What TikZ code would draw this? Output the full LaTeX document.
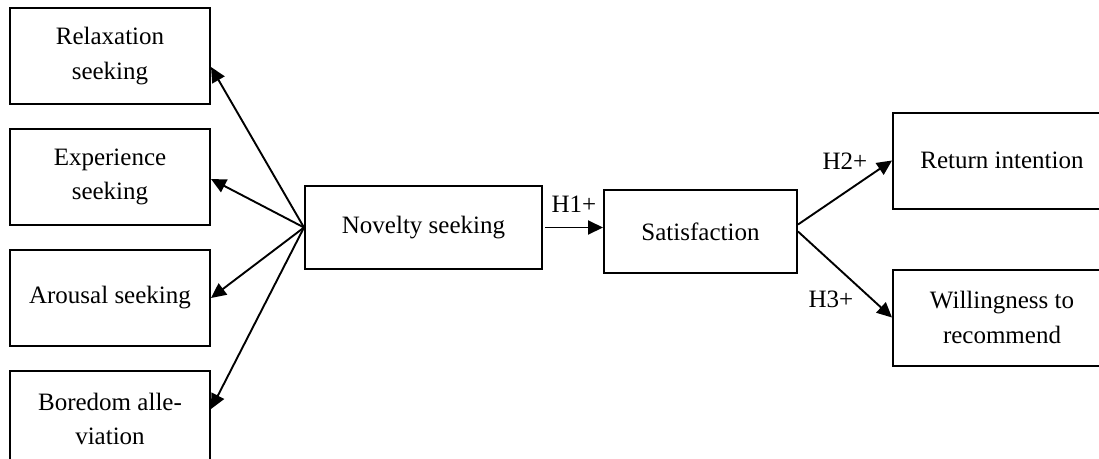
\documentclass[tikz,border=0pt]{standalone}
\usepackage{fontspec}
\setmainfont{Liberation Serif}
\usetikzlibrary{arrows.meta,positioning}
\tikzstyle{block} = [draw, rectangle, line width=2pt, align=center,
    inner sep=0pt, minimum height=96pt, minimum width=200pt]
\tikzstyle{connector} = [-{Triangle[length=15pt,width=14pt]}, line width=1.9pt]
\tikzstyle{hyp} = [inner sep=2pt]

\begin{document}
\begin{tikzpicture}[x=1pt, y=-1pt, font=\fontsize{25}{34.5}\selectfont]
		\useasboundingbox (0,0) rectangle (1099,458);
		\clip (0,0) rectangle (1099,458);
		\node[block] (relax) at (110,56) {Relaxation\\seeking};
		\node[block, below=23pt of relax] (exper) {Experience\\seeking};
		\node[block, below=23pt of exper] (arousal) {Arousal seeking};
		\node[block, below=23pt of arousal] (boredom) {Boredom alle-\\viation};
		\node[block, minimum width=237pt, minimum height=83pt] (nov) at (423.5,227.5) {Novelty seeking};
		\node[block, minimum width=193pt, minimum height=83pt] (sat) at (700.5,231.5) {Satisfaction};
		\node[block, minimum width=218pt] (ret) at (1002,160.5) {Return intention};
		\node[block, minimum width=218pt, below=59pt of ret] (rec) {Willingness to\\recommend};
		
		\draw[connector] (nov.west) -- ([yshift=-11pt]relax.east);
		\draw[connector] (nov.west) -- ([yshift=-2pt]exper.east);
		\draw[connector] (nov.west) -- (arousal.east);
		\draw[connector] (nov.west) -- ([yshift=10pt]boredom.east);
		\draw[connector] ([xshift=2pt]nov.east) -- node[hyp, above=12pt] {H1+} (nov.east -| sat.west);
		\draw[connector] ([yshift=7pt]sat.east) -- node[hyp, above=20pt] {H2+} (ret.west);
		\draw[connector] (sat.east) -- node[hyp, below=13pt, xshift=-14pt] {H3+} (rec.west);
	\end{tikzpicture}
\end{document}
